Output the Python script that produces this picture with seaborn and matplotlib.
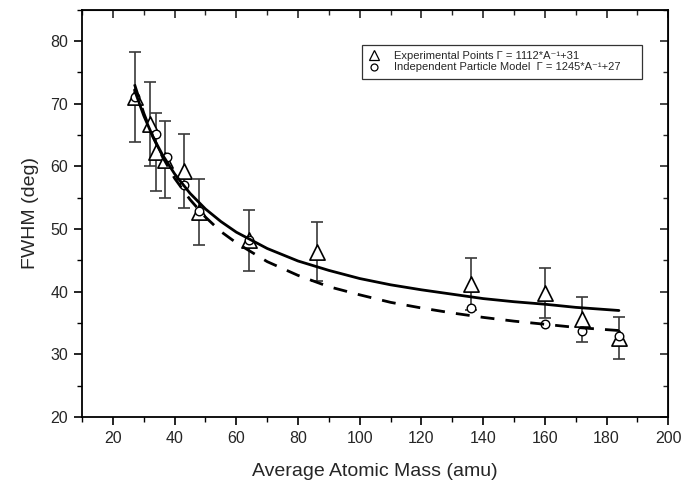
"""
FWHM vs massa atòmica mitjana: punts experimentals, model de partícula
independent i les dues corbes d'ajust.
"""
import matplotlib
matplotlib.use("Agg")
import matplotlib.pyplot as plt
import seaborn as sns
import pandas as pd
from matplotlib.lines import Line2D
from matplotlib.ticker import MultipleLocator

# =========================
# DADES
# =========================
# punts experimentals (triangles) amb barres d'error
massa_exp = [27, 32, 34, 37, 43, 48, 64, 86, 136, 160, 172, 184]
fwhm_exp = [71.1, 66.7, 62.3, 61.1, 59.3, 52.7, 48.2, 46.4, 41.2, 39.8, 35.6, 32.6]
err_exp = [7.2, 6.7, 6.3, 6.1, 5.9, 5.3, 4.9, 4.7, 4.1, 4.0, 3.6, 3.3]

# model de partícula independent (cercles)
massa_ipm = [27, 34, 37.5, 43, 48, 64, 136, 160, 172, 184]
fwhm_ipm = [71.1, 65.1, 61.5, 57.0, 52.9, 48.3, 37.4, 34.8, 33.8, 33.0]

# corbes d'ajust (llegides del gràfic)
massa_ajust = [27, 30, 33, 36, 40, 45, 50, 55, 60, 70, 80, 90, 100,
               110, 120, 130, 140, 150, 160, 170, 184]
ajust_exp = [72.2, 68.1, 64.7, 61.9, 58.8, 55.7, 53.2, 51.2, 49.5, 46.9, 44.9,
             43.4, 42.1, 41.1, 40.3, 39.6, 38.9, 38.4, 38.0, 37.5, 37.0]
ajust_ipm = [73.1, 68.5, 64.7, 61.6, 58.1, 54.7, 51.9, 49.6, 47.8, 44.8, 42.6,
             40.8, 39.5, 38.3, 37.4, 36.6, 35.9, 35.3, 34.8, 34.3, 33.8]

df_exp = pd.DataFrame({"massa": massa_exp, "fwhm": fwhm_exp, "err": err_exp})
df_ipm = pd.DataFrame({"massa": massa_ipm, "fwhm": fwhm_ipm})
df_ajust = pd.DataFrame({"massa": massa_ajust, "exp": ajust_exp, "ipm": ajust_ipm})

# =========================
# ESTIL
# =========================
sns.set_style("ticks")
plt.rcParams["font.family"] = ["Liberation Sans", "DejaVu Sans"]

fig = plt.figure(figsize=(6.84, 4.90), dpi=100)
ax = fig.add_axes([0.120, 0.149, 0.857, 0.831])

# barres d'error
ax.errorbar(df_exp["massa"], df_exp["fwhm"], yerr=df_exp["err"], fmt="none",
            ecolor="#3a3a3a", elinewidth=1.2, capsize=4.5, capthick=1.2, zorder=1)

# marcadors
sns.scatterplot(data=df_exp, x="massa", y="fwhm", marker="^", s=120,
                facecolor="white", edgecolor="black", linewidth=1.2,
                ax=ax, zorder=2, legend=False)
sns.scatterplot(data=df_ipm, x="massa", y="fwhm", marker="o", s=38,
                facecolor="white", edgecolor="black", linewidth=1.0,
                ax=ax, zorder=3, legend=False)

# corbes
sns.lineplot(data=df_ajust, x="massa", y="exp", color="black", linewidth=2.0,
             ax=ax, zorder=4)
sns.lineplot(data=df_ajust, x="massa", y="ipm", color="black", linewidth=2.0,
             linestyle=(0, (5, 4)), ax=ax, zorder=4)

# =========================
# EIXOS
# =========================
ax.set_xlim(10, 200)
ax.set_ylim(20, 85)
ax.xaxis.set_major_locator(MultipleLocator(20))
ax.xaxis.set_minor_locator(MultipleLocator(10))
ax.yaxis.set_major_locator(MultipleLocator(10))
ax.yaxis.set_minor_locator(MultipleLocator(5))
ax.tick_params(which="major", direction="out", length=6, width=1.2,
               labelsize=11.5, color="black", pad=4)
ax.tick_params(which="minor", direction="out", length=3.5, width=1.0, color="black")
ax.set_yticks([20, 30, 40, 50, 60, 70, 80])

for lado in ["top", "right", "left", "bottom"]:
    ax.spines[lado].set_visible(True)
    ax.spines[lado].set_linewidth(1.3)
    ax.spines[lado].set_color("black")

# ticks interiors a dalt i a la dreta
sec_x = ax.secondary_xaxis("top")
sec_x.xaxis.set_major_locator(MultipleLocator(20))
sec_x.xaxis.set_minor_locator(MultipleLocator(10))
sec_x.tick_params(which="major", direction="in", length=6, width=1.2, labeltop=False)
sec_x.tick_params(which="minor", direction="in", length=3.5, width=1.0)
sec_y = ax.secondary_yaxis("right")
sec_y.yaxis.set_major_locator(MultipleLocator(10))
sec_y.yaxis.set_minor_locator(MultipleLocator(5))
sec_y.tick_params(which="major", direction="in", length=6, width=1.2, labelright=False)
sec_y.tick_params(which="minor", direction="in", length=3.5, width=1.0)

ax.set_xlabel("Average Atomic Mass (amu)", fontsize=14, labelpad=12)
ax.set_ylabel("FWHM (deg)", fontsize=14, labelpad=8)

# =========================
# LLEGENDA
# =========================
handles = [
    Line2D([], [], marker="^", linestyle="none", markersize=6.5,
           markerfacecolor="white", markeredgecolor="black", markeredgewidth=0.9),
    Line2D([], [], marker="o", linestyle="none", markersize=5,
           markerfacecolor="white", markeredgecolor="black", markeredgewidth=0.9),
]
etiquetes = [
    "Experimental Points Γ = 1112*A⁻¹+31",
    "Independent Particle Model  Γ = 1245*A⁻¹+27     ",
]
leg = ax.legend(handles, etiquetes, loc="upper left", bbox_to_anchor=(0.478, 0.913),
                fontsize=8, frameon=True, fancybox=False, handlelength=1.0,
                handletextpad=1.3, borderpad=0.55, labelspacing=0.1,
                borderaxespad=0)
leg.get_frame().set_edgecolor("black")
leg.get_frame().set_linewidth(0.9)

fig.savefig("out.png", dpi=100)
plt.close(fig)
